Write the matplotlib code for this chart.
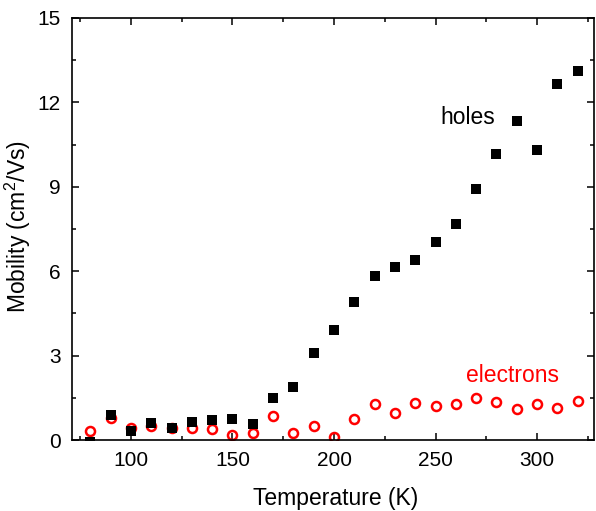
import numpy as np
import matplotlib.pyplot as plt
from matplotlib.ticker import MultipleLocator

plt.rcParams['font.family'] = ['Liberation Sans', 'DejaVu Sans']
plt.rcParams['mathtext.default'] = 'regular'

temp = np.array([80, 90, 100, 110, 120, 130, 140, 150, 160, 170, 180, 190, 200,
                 210, 220, 230, 240, 250, 260, 270, 280, 290, 300, 310, 320])
holes = np.array([-0.08, 0.90, 0.33, 0.62, 0.44, 0.64, 0.71, 0.76, 0.58, 1.50, 1.90, 3.09, 3.91,
                  4.90, 5.83, 6.15, 6.40, 7.04, 7.68, 8.92, 10.17, 11.35, 10.31, 12.66, 13.13])
electrons = np.array([0.33, 0.77, 0.41, 0.50, 0.44, 0.41, 0.38, 0.17, 0.26, 0.84, 0.24, 0.51, 0.12,
                      0.73, 1.28, 0.97, 1.30, 1.22, 1.27, 1.49, 1.34, 1.09, 1.27, 1.14, 1.39])

fig = plt.figure(figsize=(5.96, 5.11), dpi=100)
ax = fig.add_axes([0.1208, 0.1389, 0.8758, 0.8259])

ax.plot(temp, electrons, linestyle="none", marker="o", markersize=6.5,
        markerfacecolor="none", markeredgecolor="red", markeredgewidth=1.8, zorder=2)
ax.plot(temp, holes, linestyle="none", marker="s", markersize=7.8,
        color="black", markeredgewidth=0, zorder=3)

ax.text(266, 11.48, "holes", fontsize=16.5, color="black", ha="center", va="center")
ax.text(288, 2.28, "electrons", fontsize=16.5, color="red", ha="center", va="center")

ax.set_xlim(71, 328)
ax.set_ylim(0, 15)
ax.xaxis.set_major_locator(MultipleLocator(50))
ax.xaxis.set_minor_locator(MultipleLocator(25))
ax.yaxis.set_major_locator(MultipleLocator(3))
ax.yaxis.set_minor_locator(MultipleLocator(1.5))
ax.tick_params(which="both", direction="in", top=True, right=True, width=1.1,
               labelsize=15)
ax.tick_params(which="major", length=5, pad=8)
ax.tick_params(which="minor", length=3)
for s in ax.spines.values():
    s.set_linewidth(1.2)

ax.set_xlabel("Temperature (K)", fontsize=16.5, va="baseline")
ax.xaxis.set_label_coords(0.505, -0.154)
ax.set_ylabel("Mobility (cm$^2$/Vs)", fontsize=16.5, va="baseline",
              rotation_mode="anchor")
ax.yaxis.set_label_coords(-0.088, 0.505)

fig.savefig("out.png", dpi=100)
